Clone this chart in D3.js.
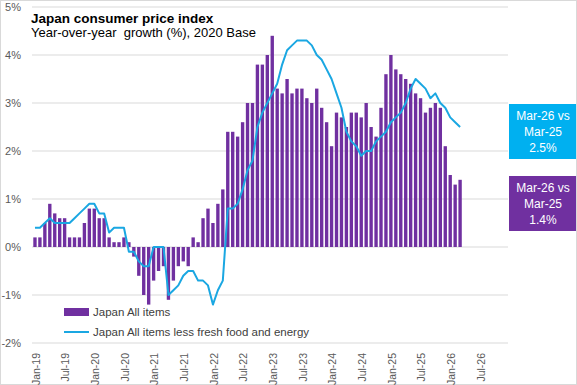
<html>
<head>
<meta http-equiv="Content-type" content="text/html;charset=UTF-8">
<title>Japan consumer price index</title>
<script src="https://d3js.org/d3.v7.min.js"></script>
<style>
    body {
        margin: 0;
        background: #ffffff;
        font-family: 'Liberation Sans', sans-serif;
    }
</style>
</head>
<body>
<div id="chart"></div>
<script>
    // ***** DATA *****
    var monthNames = ['Jan','Feb','Mar','Apr','May','Jun','Jul','Aug','Sep','Oct','Nov','Dec'];
    var years = [19, 20, 21, 22, 23, 24, 25, 26, 27];

    // Japan All items, y/y %  (Jan-19 .. Mar-26)
    var allItems = [
        0.2, 0.2, 0.5, 0.9, 0.7, 0.6, 0.6, 0.2, 0.2, 0.2, 0.5, 0.8,
        0.8, 0.6, 0.6, 0.2, 0.1, 0.1, 0.2, 0.1, -0.2, -0.6, -1.0, -1.2,
        -0.7, -0.5, -0.4, -1.1, -0.7, -0.4, -0.3, -0.4, 0.2, 0.1, 0.6, 0.8,
        0.5, 0.9, 1.2, 2.4, 2.4, 2.3, 2.6, 3.0, 3.0, 3.8, 3.8, 4.0,
        4.4, 3.3, 3.2, 3.5, 3.2, 3.3, 3.3, 3.1, 3.0, 3.3, 2.9, 2.6,
        2.1, 2.8, 2.7, 2.5, 2.8, 2.8, 2.7, 3.0, 2.5, 2.3, 2.9, 3.6,
        4.0, 3.7, 3.6, 3.5, 3.4, 3.2, 3.1, 2.8, 2.9, 3.0, 2.9, 2.1,
        1.5, 1.3, 1.4
    ];

    // Japan All items less fresh food and energy, y/y %
    var lessFreshFoodEnergy = [
        0.4, 0.4, 0.5, 0.6, 0.5, 0.5, 0.5, 0.5, 0.6, 0.7, 0.8, 0.9,
        0.9, 0.7, 0.7, 0.3, 0.4, 0.4, 0.4, -0.1, -0.1, -0.3, -0.4, -0.4,
        0.0, 0.0, 0.0, -1.0, -0.9, -0.8, -0.6, -0.5, -0.5, -0.7, -0.7, -0.8,
        -1.2, -0.9, -0.7, 0.8, 0.8, 0.9, 1.2, 1.6, 1.8, 2.5, 2.8, 3.0,
        3.2, 3.4, 3.8, 4.1, 4.2, 4.3, 4.3, 4.3, 4.2, 4.0, 3.9, 3.7,
        3.5, 3.2, 2.9, 2.4, 2.2, 2.1, 1.9, 2.0, 2.0, 2.2, 2.3, 2.4,
        2.6, 2.7, 2.8, 3.0, 3.3, 3.5, 3.4, 3.3, 3.1, 3.2, 3.0, 2.9,
        2.7, 2.6, 2.5
    ];

    var tickLabels = ['Jan-19','Jul-19','Jan-20','Jul-20','Jan-21','Jul-21','Jan-22','Jul-22',
                      'Jan-23','Jul-23','Jan-24','Jul-24','Jan-25','Jul-25','Jan-26','Jul-26'];
    var yTicks = [-2, -1, 0, 1, 2, 3, 4, 5];

    var seriesNames = ['Japan All items', 'Japan All items less fresh food and energy'];
    var boxLines = [
        ['Mar-26 vs', 'Mar-25', '2.5%'],
        ['Mar-26 vs', 'Mar-25', '1.4%']
    ];

    // category axis runs Jan-19 .. Jan-27
    var months = [];
    years.forEach(function(y) {
        monthNames.forEach(function(m) { months.push(m + '-' + y); });
    });
    months = months.slice(0, 97);

    // ***** CHART *****
    var width = 577, height = 385;
    var purple = '#7030a0', cyan = '#1aa7e2', boxCyan = '#00b0f0';

    var svg = d3.select('#chart').append('svg')
        .attr('width', width)
        .attr('height', height);

    svg.append('rect')
        .attr('x', 0.5).attr('y', 0.5)
        .attr('width', width - 1).attr('height', height - 1)
        .attr('fill', '#fff').attr('stroke', '#d9d9d9');

    var x = d3.scaleBand().domain(months).range([32.5, 512]).paddingInner(0.32).paddingOuter(0.16);
    var y = d3.scaleLinear().domain([-2, 5]).range([343, 7]);

    // gridlines
    svg.append('g').selectAll('line')
        .data(yTicks)
        .enter().append('line')
        .attr('x1', 32).attr('x2', 508)
        .attr('y1', function(d) { return y(d); })
        .attr('y2', function(d) { return y(d); })
        .attr('stroke', '#d9d9d9').attr('stroke-width', 1);

    // y labels
    svg.append('g').selectAll('text')
        .data(yTicks)
        .enter().append('text')
        .attr('x', 21)
        .attr('y', function(d) { return y(d); })
        .attr('dy', '0.35em')
        .attr('text-anchor', 'end')
        .attr('font-size', 11)
        .attr('fill', '#595959')
        .text(function(d) { return d + '%'; });

    // bars
    svg.append('g').selectAll('rect')
        .data(allItems)
        .enter().append('rect')
        .attr('x', function(d, i) { return x(months[i]); })
        .attr('width', x.bandwidth())
        .attr('y', function(d) { return y(Math.max(0, d)); })
        .attr('height', function(d) { return Math.abs(y(d) - y(0)); })
        .attr('fill', purple);

    // line
    var line = d3.line()
        .x(function(d, i) { return x(months[i]) + x.bandwidth() / 2; })
        .y(function(d) { return y(d); });

    svg.append('path')
        .datum(lessFreshFoodEnergy)
        .attr('d', line)
        .attr('fill', 'none')
        .attr('stroke', cyan)
        .attr('stroke-width', 2)
        .attr('stroke-linejoin', 'round');

    // x labels
    svg.append('g').selectAll('text')
        .data(tickLabels)
        .enter().append('text')
        .attr('transform', function(d) {
            return 'translate(' + (x(d) + x.bandwidth() / 2 + 1) + ',353) rotate(-90)';
        })
        .attr('dy', '0.35em')
        .attr('text-anchor', 'end')
        .attr('font-size', 10.5)
        .attr('fill', '#595959')
        .text(function(d) { return d; });

    // title
    svg.append('text')
        .attr('x', 31).attr('y', 23)
        .attr('font-size', 13.5).attr('font-weight', 'bold')
        .attr('fill', '#000')
        .text('Japan consumer price index');
    svg.append('text')
        .attr('x', 31).attr('y', 37)
        .attr('font-size', 13)
        .attr('fill', '#000')
        .attr('xml:space', 'preserve')
        .style('white-space', 'pre')
        .text('Year-over-year  growth (%), 2020 Base');

    // legend
    var legend = svg.append('g').attr('transform', 'translate(64,0)');
    legend.append('rect')
        .attr('x', 0).attr('y', 308).attr('width', 25).attr('height', 8)
        .attr('fill', purple);
    legend.append('line')
        .attr('x1', 0).attr('x2', 25).attr('y1', 332).attr('y2', 332)
        .attr('stroke', cyan).attr('stroke-width', 2);
    legend.selectAll('text')
        .data(seriesNames)
        .enter().append('text')
        .attr('x', 29)
        .attr('y', function(d, i) { return 312 + i * 20; })
        .attr('dy', '0.35em')
        .attr('font-size', 11.5)
        .attr('fill', '#404040')
        .text(function(d) { return d; });

    // annotation boxes
    var boxes = [
        { top: 104, fill: boxCyan, lines: boxLines[0] },
        { top: 176, fill: purple, lines: boxLines[1] }
    ];
    boxes.forEach(function(b) {
        svg.append('rect')
            .attr('x', 509).attr('y', b.top)
            .attr('width', 67).attr('height', 55)
            .attr('fill', b.fill);
        svg.append('g').selectAll('text')
            .data(b.lines)
            .enter().append('text')
            .attr('x', 543)
            .attr('y', function(d, i) { return b.top + 12 + i * 16; })
            .attr('dy', '0.35em')
            .attr('text-anchor', 'middle')
            .attr('font-size', 12)
            .attr('fill', '#fff')
            .text(function(d) { return d; });
    });
</script>
</body>
</html>
